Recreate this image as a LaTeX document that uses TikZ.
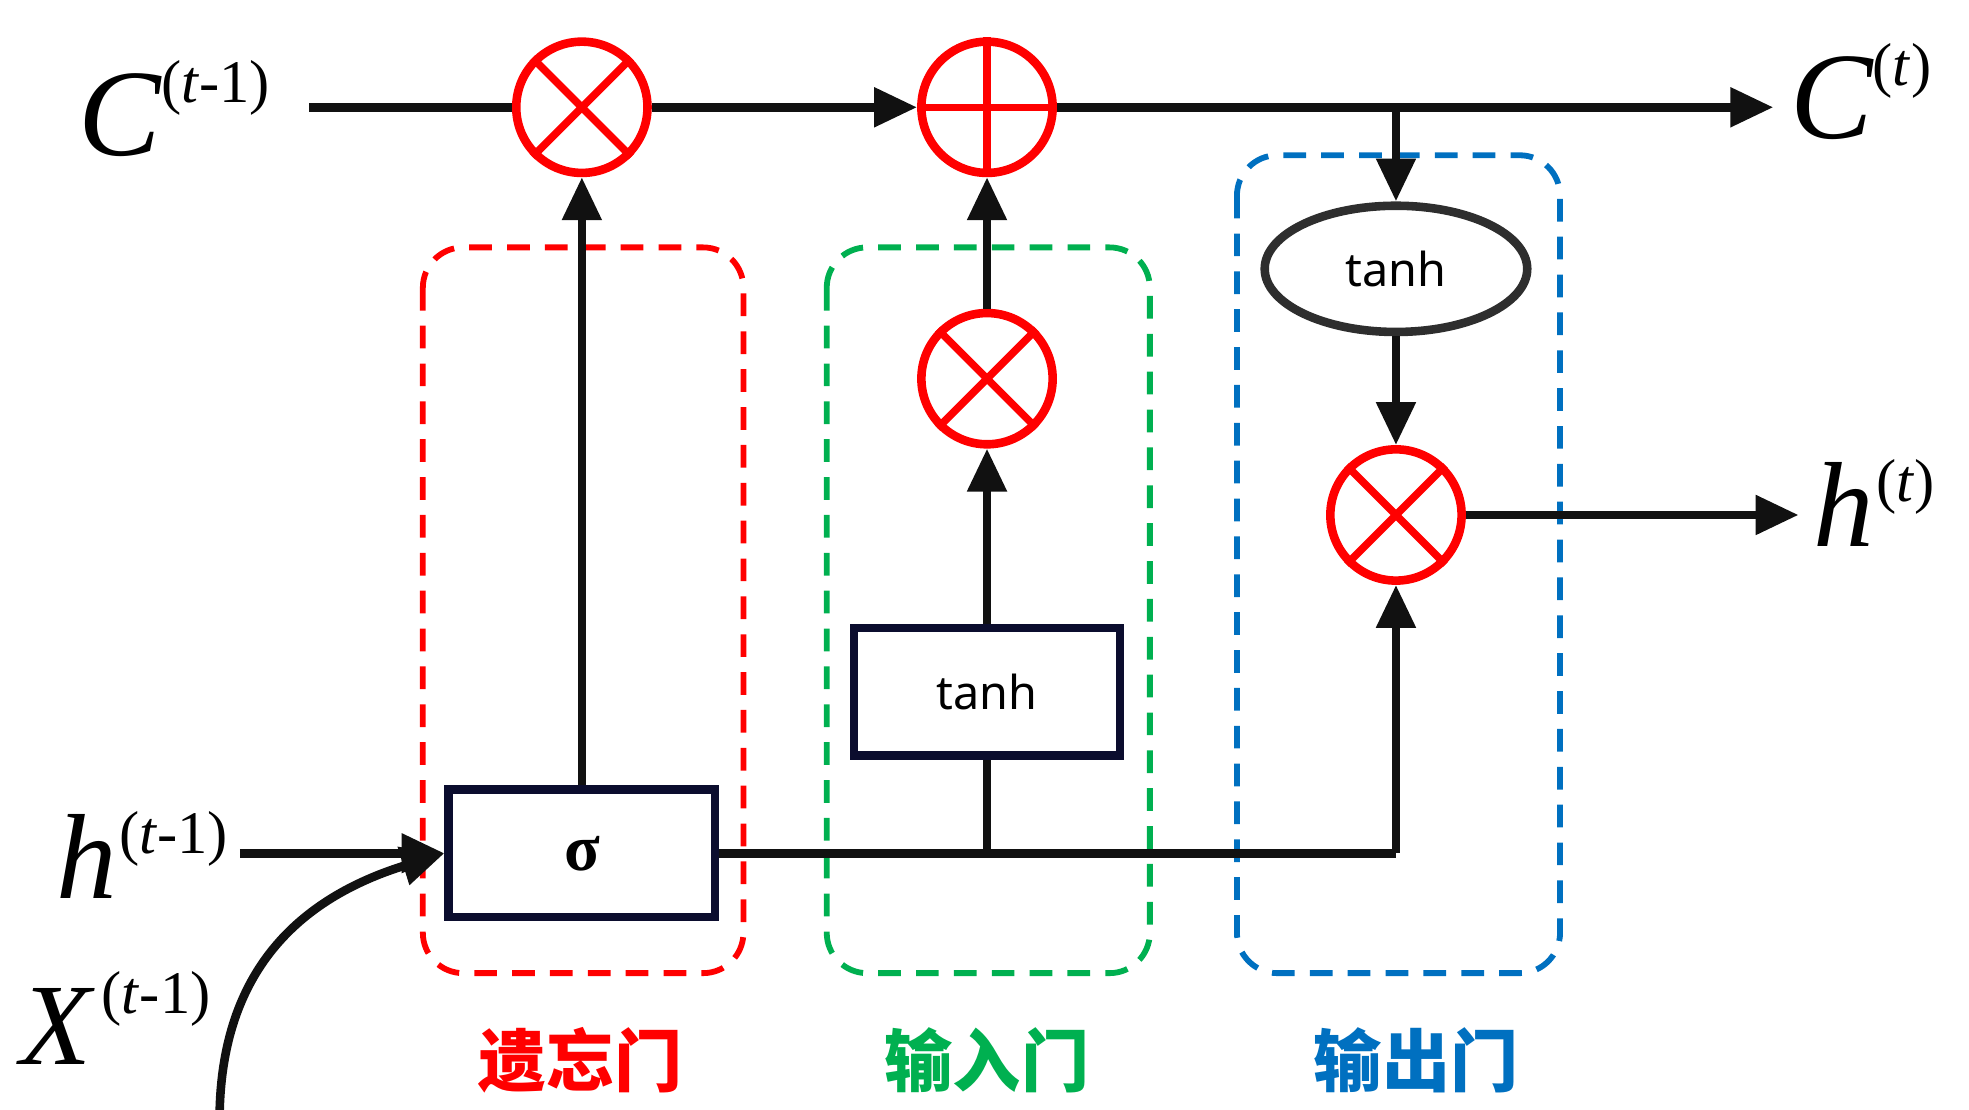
\documentclass[tikz,border=0pt]{standalone}
\usepackage{fontspec}
\setmainfont{Liberation Serif}
\newfontfamily\cjk{Noto Sans CJK SC}
\newfontfamily\nsans{Noto Sans}
\usetikzlibrary{arrows.meta,shapes.geometric}
\definecolor{gred}{HTML}{FF0000}
\definecolor{ggreen}{HTML}{00B050}
\definecolor{gblue}{HTML}{0070C0}
\definecolor{navy}{HTML}{0B0D2E}
\definecolor{dgray}{HTML}{2E2E2E}
\definecolor{ink}{HTML}{111111}
\tikzset{
  conn/.style={line width=3.4pt, draw=ink, -{Triangle[length=17pt,width=15pt]}},
  wire/.style={line width=3.4pt, draw=ink},
  opcirc/.style={circle, draw=gred, line width=3.4pt, minimum size=52pt, inner sep=0pt, fill=white},
  fnbox/.style={rectangle, draw=navy, line width=3.4pt, minimum width=105.5pt, minimum height=50.5pt, inner sep=0pt, fill=white},
  gatebox/.style={rounded corners=16pt, line width=2.3pt, dash pattern=on 9pt off 6pt},
  glabel/.style={font=\cjk\bfseries\fontsize{27}{27}\selectfont, inner sep=0pt},
  mlabel/.style={inner sep=0pt, anchor=base west},
}
\newcommand{\supx}[2]{\raisebox{#1}{\fontsize{24}{24}\selectfont #2}}
\begin{document}
\begin{tikzpicture}[x=0.5pt,y=-0.5pt]
\useasboundingbox (0,0) rectangle (1560,879);
% gate regions
\draw[gatebox, draw=gred]   (335,196) rectangle (589,771);
\draw[gatebox, draw=ggreen] (655,196) rectangle (911,771);
\draw[gatebox, draw=gblue]  (980,123) rectangle (1236,771);
% operator nodes
\node[opcirc] (m1) at (461,85) {};
\node[opcirc] (pl) at (782,85) {};
\node[opcirc] (m2) at (782,300) {};
\node[opcirc] (m3) at (1106,408) {};
\draw[gred, line width=3pt] (m1.north west) -- (m1.south east) (m1.north east) -- (m1.south west);
\draw[gred, line width=3pt] (m2.north west) -- (m2.south east) (m2.north east) -- (m2.south west);
\draw[gred, line width=3pt] (m3.north west) -- (m3.south east) (m3.north east) -- (m3.south west);
\draw[gred, line width=3pt] (pl.north) -- (pl.south) (pl.west) -- (pl.east);
% function nodes
\node[fnbox] (sg) at (461,676) {\fontsize{26}{26}\selectfont\bfseries σ};
\node[fnbox] (th) at (782,548) {\nsans\fontsize{18.5}{18.5}\selectfont tanh};
\node[ellipse, draw=dgray, line width=3.4pt, minimum width=104pt, minimum height=50pt, inner sep=0pt, fill=white] (te) at (1106,213) {\nsans\fontsize{18.5}{18.5}\selectfont tanh};
% labels
\node[mlabel] (cin) at (62,123) {{\fontsize{49}{49}\selectfont\itshape C}\supx{21pt}{(\textit{t}-1)}};
\node[mlabel] (cout) at (1418,110) {{\fontsize{49}{49}\selectfont\itshape C}\supx{21pt}{(\textit{t})}};
\node[mlabel] (hin) at (44,712) {{\fontsize{48}{48}\selectfont\itshape h}\hspace{1pt}\supx{18pt}{(\textit{t}-1)}};
\node[mlabel] (hout) at (1436,433) {{\fontsize{48}{48}\selectfont\itshape h}\hspace{1pt}\supx{18pt}{(\textit{t})}};
\node[mlabel] (xin) at (16,843) {{\fontsize{46}{46}\selectfont\itshape X}\hspace{4pt}\supx{20pt}{(\textit{t}-1)}};
\node[glabel, text=gred]   (l1) at (460,840) {遗忘门};
\node[glabel, text=ggreen] (l2) at (782,840) {输入门};
\node[glabel, text=gblue]  (l3) at (1122,840) {输出门};
% coordinates
\coordinate (cstart) at (245,85);
\coordinate (cend) at (1405,85);
\coordinate (jc) at (1106,85);
\coordinate (hstart) at (190,676);
\coordinate (hend) at (1425,408);
\coordinate (jh) at (782,676);
\coordinate (ch) at (1106,676);
\coordinate (xstart) at (174,882);
% connectors
\draw[wire] (cstart) -- (m1.west);
\draw[conn] (m1.east) -- (pl.west);
\draw[conn] (pl.east) -- (cend);
\draw[conn] (jc) -- (te.north);
\draw[conn] (te.south) -- (m3.north);
\draw[conn] (m3.east) -- (hend);
\draw[conn] (sg.north) -- (m1.south);
\draw[conn] (th.north) -- (m2.south);
\draw[conn] (m2.north) -- (pl.south);
\draw[conn] (hstart) -- (sg.west);
\draw[conn] (xstart) .. controls (176,770) and (236,712) .. (sg.west);
\draw[wire, line join=round] (sg.east) -- (ch);
\draw[conn] (ch) -- (m3.south);
\draw[wire] (jh) -- (th.south);
\end{tikzpicture}
\end{document}
